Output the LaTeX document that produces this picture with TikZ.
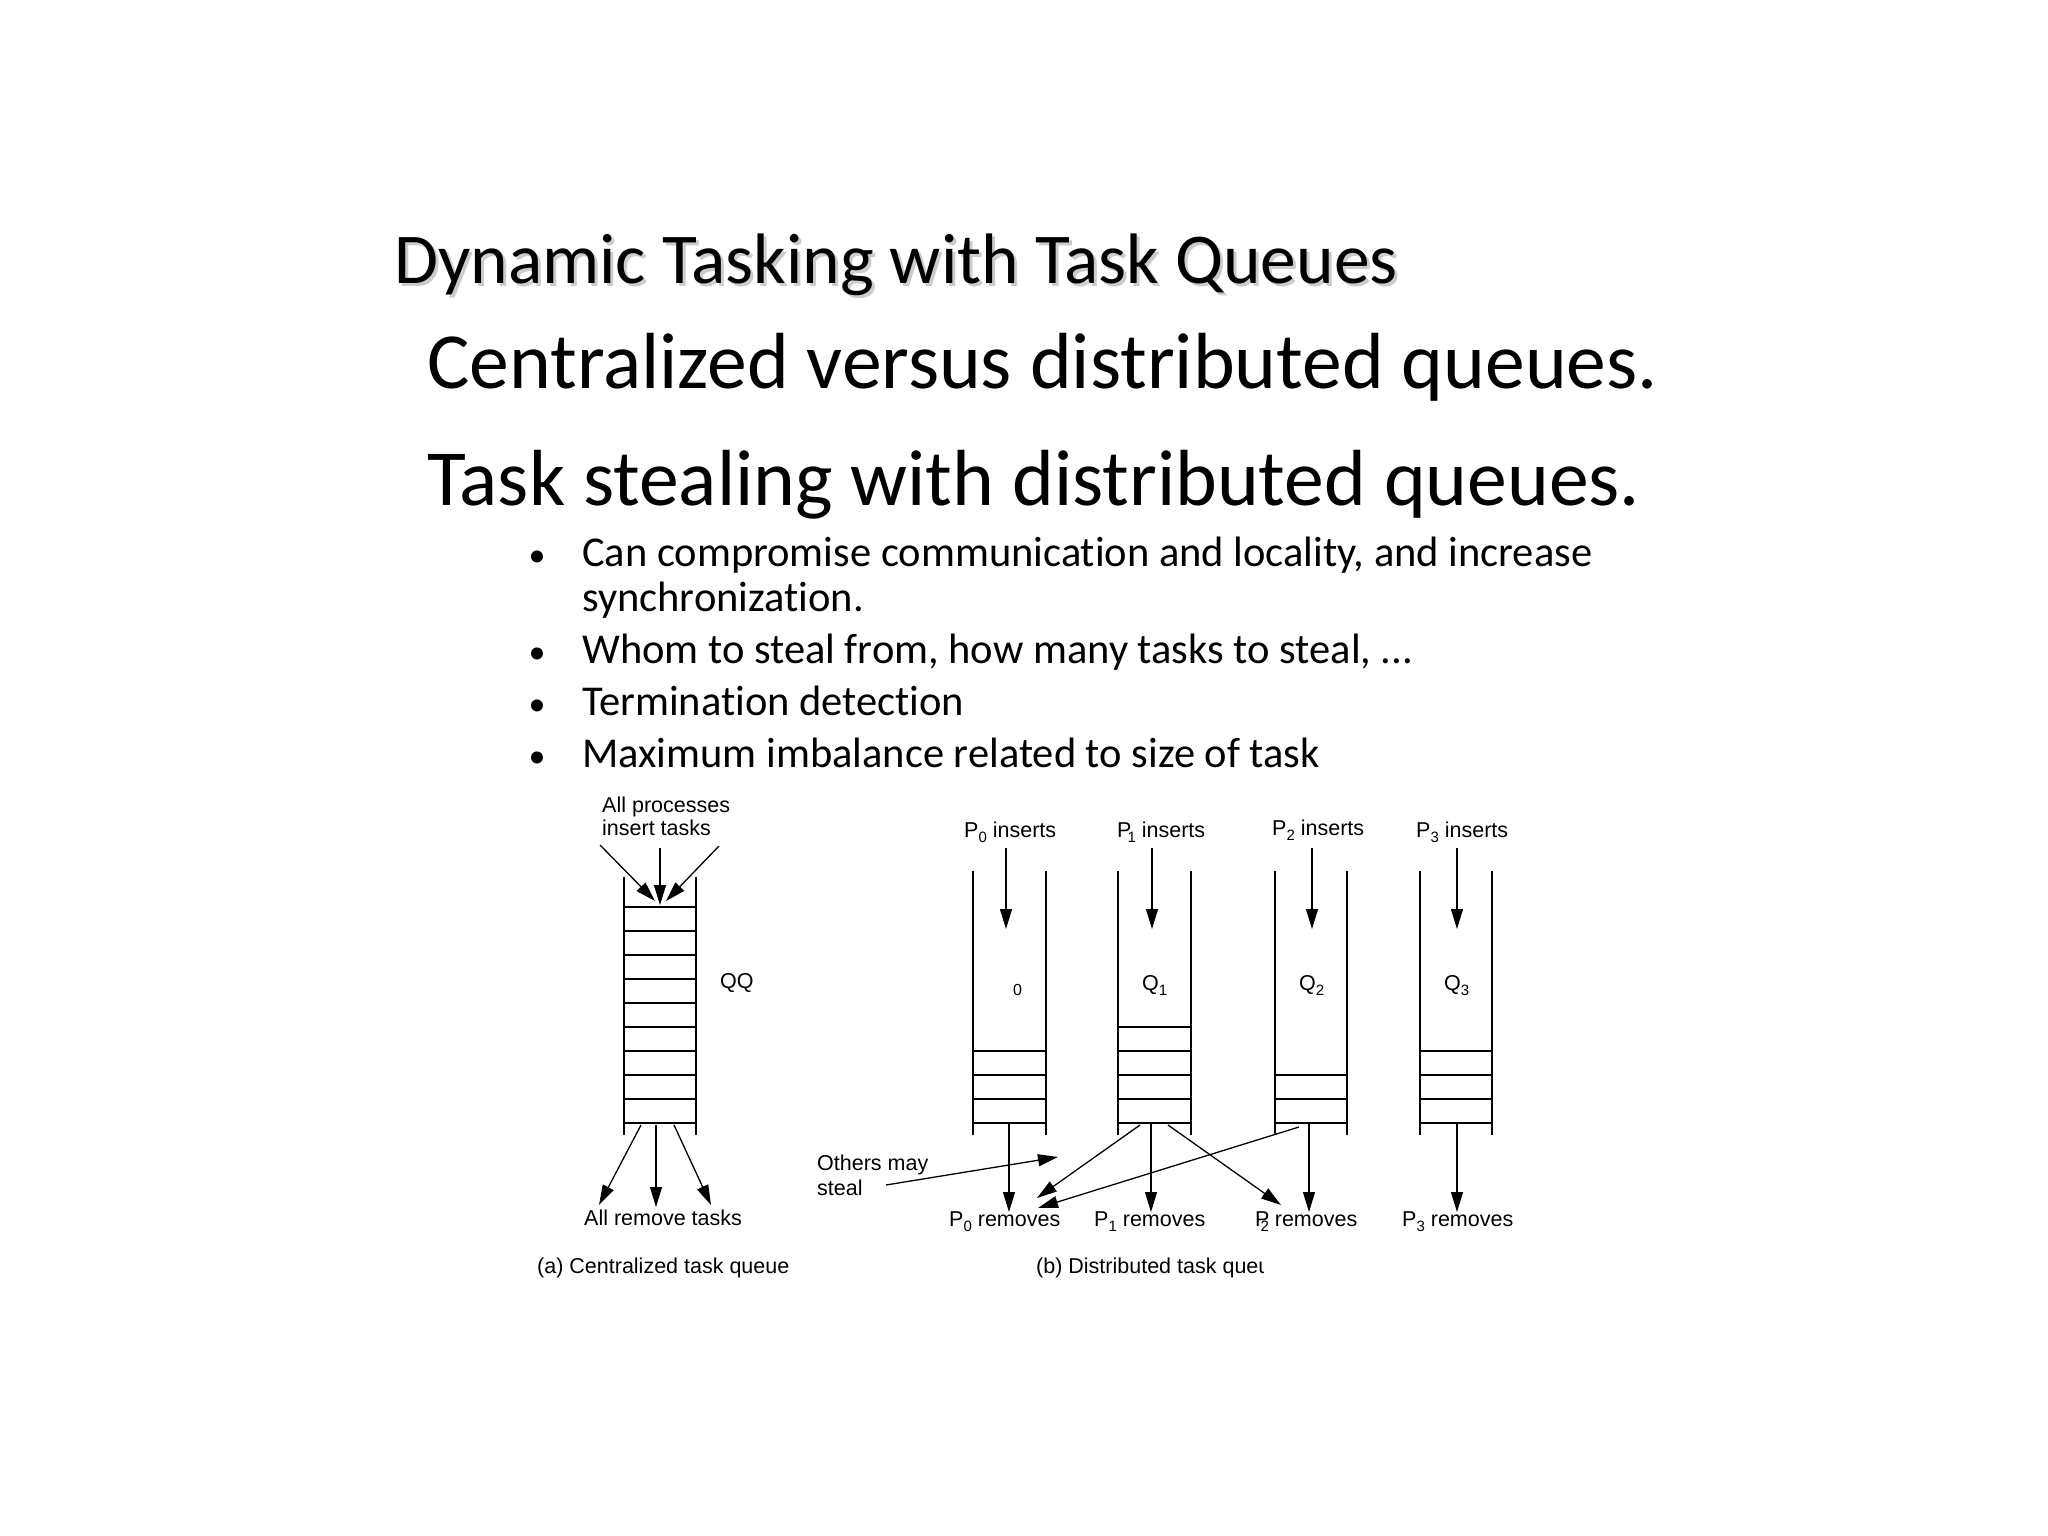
\documentclass[tikz,border=0pt]{standalone}
\usepackage{fontspec}
\setmainfont{Carlito}[Ligatures=NoCommon]
\newfontfamily\arialf{Liberation Sans}
\usetikzlibrary{arrows.meta}
\newcommand\lsub[1]{\raisebox{-5pt}{\fontsize{15}{15}\selectfont #1}}
\tikzset{
 wall/.style={line width=2.8pt, line cap=butt},
 slot/.style={line width=2.4pt},
 arr/.style={line width=1.3pt, -{Triangle[length=20pt,width=12pt]}},
 lbl/.style={inner sep=0pt, font=\arialf\fontsize{21.5}{24}\selectfont},
 big/.style={inner sep=0pt, font=\fontsize{79.6}{90}\selectfont},
 ttl/.style={inner sep=0pt, font=\fontsize{71.5}{80}\selectfont},
 bul/.style={inner sep=0pt, font=\fontsize{42.5}{48}\selectfont},
 bdot/.style={inner sep=0pt, font=\fontsize{34}{40}\selectfont},
}
\begin{document}
\begin{tikzpicture}[x=1pt,y=-1pt]
\path[use as bounding box, fill=white] (0,0) rectangle (2048,1536);
% title and text
\node[ttl, anchor=base west, text=gray!40] (titleshadow) at (397,286) {Dynamic Tasking with Task Queues};
\node[ttl, anchor=base west] (title) at (394,283) {Dynamic Tasking with Task Queues};
\node[big, anchor=base west] (l1) at (427,388) {Centralized versus distributed queues.};
\node[big, anchor=base west] (l2) at (427,505) {Task stealing with distributed queues.};
\foreach \y/\n in {566/1,663/2,715/3,767/4} \node[bdot, anchor=base] (dot\n) at (537,\y) {•};
\node[bul, anchor=base west] (b1) at (582,566) {Can compromise communication and locality, and increase};
\node[bul, anchor=base west] (b1b) at (582,611) {synchronization.};
\node[bul, anchor=base west] (b2) at (582,663) {Whom to steal from, how many tasks to steal, ...};
\node[bul, anchor=base west] (b3) at (582,715) {Termination detection};
\node[bul, anchor=base west] (b4) at (582,767) {Maximum imbalance related to size of task};
% (a) centralized queue
\draw[wall] (624,877) -- (624,1135);
\draw[wall] (696,877) -- (696,1135);
\foreach \y in {907,931,...,1123} \draw[slot] (624,\y) -- (696,\y);
\node[lbl, anchor=base west] (allins1) at (602,812) {All processes};
\node[lbl, anchor=base west] (allins2) at (602,835) {insert tasks};
\coordinate (ia1) at (600,845); \coordinate (it1) at (655,901);
\coordinate (ia2) at (660,848); \coordinate (it2) at (660,905);
\coordinate (ia3) at (719,846); \coordinate (it3) at (666,901);
\draw[arr] (ia1) -- (it1);
\draw[arr] (ia2) -- (it2);
\draw[arr] (ia3) -- (it3);
\node[lbl, anchor=base west] (qq) at (720,988) {QQ};
\coordinate (ra1) at (641,1125); \coordinate (rt1) at (599,1205);
\coordinate (ra2) at (656,1125); \coordinate (rt2) at (656,1207);
\coordinate (ra3) at (674,1125); \coordinate (rt3) at (711,1205);
\draw[arr] (ra1) -- (rt1);
\draw[arr] (ra2) -- (rt2);
\draw[arr] (ra3) -- (rt3);
\node[lbl, anchor=base west] (allrem) at (584,1225) {All remove tasks};
\node[lbl, anchor=base west] (capa) at (537,1273) {(a) Centralized task queue};
% (b) distributed queues
\foreach \l/\r/\t in {973/1046/1051, 1118/1191/1027, 1275/1347/1075, 1420/1492/1051} {
  \draw[wall] (\l,871) -- (\l,1135);
  \draw[wall] (\r,871) -- (\r,1135);
  \foreach \y in {1123,1099,...,\t} \draw[slot] (\l,\y) -- (\r,\y);
}
\node[lbl, anchor=base west] (p0i) at (964,837) {P\lsub{0} inserts};
\node[lbl, anchor=base west] (p1i) at (1117,837) {P\kern-4pt\lsub{1} inserts};
\node[lbl, anchor=base west] (p2i) at (1272,835) {P\lsub{2} inserts};
\node[lbl, anchor=base west] (p3i) at (1416,837) {P\lsub{3} inserts};
\foreach \x/\n in {1006/0,1152/1,1312/2,1457/3} {
  \coordinate (in\n) at (\x,848); \coordinate (it\n) at (\x,929);
  \draw[arr] (in\n) -- (it\n);
}
\node[inner sep=0pt, anchor=base west, font=\arialf\fontsize{16}{16}\selectfont] (z0) at (1013,995) {0};
\node[lbl, anchor=base west] (q1l) at (1142,990) {Q\lsub{1}};
\node[lbl, anchor=base west] (q2l) at (1299,990) {Q\lsub{2}};
\node[lbl, anchor=base west] (q3l) at (1444,990) {Q\lsub{3}};
\foreach \x/\n in {1009/0,1151/1,1309/2,1457/3} {
  \coordinate (out\n) at (\x,1123); \coordinate (ot\n) at (\x,1212);
  \draw[arr] (out\n) -- (ot\n);
}
\node[lbl, anchor=base west] (p0r) at (949,1226) {P\lsub{0} removes};
\node[lbl, anchor=base west] (p1r) at (1094,1226) {P\lsub{1} removes};
\node[lbl, anchor=base west] (p2r) at (1255,1226) {P\kern-9pt\lsub{2} removes};
\node[lbl, anchor=base west] (p3r) at (1402,1226) {P\lsub{3} removes};
\coordinate (s1a) at (1140,1125); \coordinate (s1b) at (1037,1198);
\coordinate (s2a) at (1168,1125); \coordinate (s2b) at (1281,1205);
\coordinate (s3a) at (1299,1127); \coordinate (s3b) at (1038,1208);
\coordinate (oa) at (886,1185); \coordinate (ob) at (1058,1157);
\draw[arr] (s1a) -- (s1b);
\draw[arr] (s2a) -- (s2b);
\draw[arr] (s3a) -- (s3b);
\draw[arr] (oa) -- (ob);
\node[lbl, anchor=base west] (oth1) at (817,1170) {Others may};
\node[lbl, anchor=base west] (oth2) at (817,1195) {steal};
\begin{scope}
  \clip (1000,1240) rectangle (1263,1290);
  \node[lbl, anchor=base west] (capb) at (1036,1273) {(b) Distributed task queue};
\end{scope}
\end{tikzpicture}
\end{document}
